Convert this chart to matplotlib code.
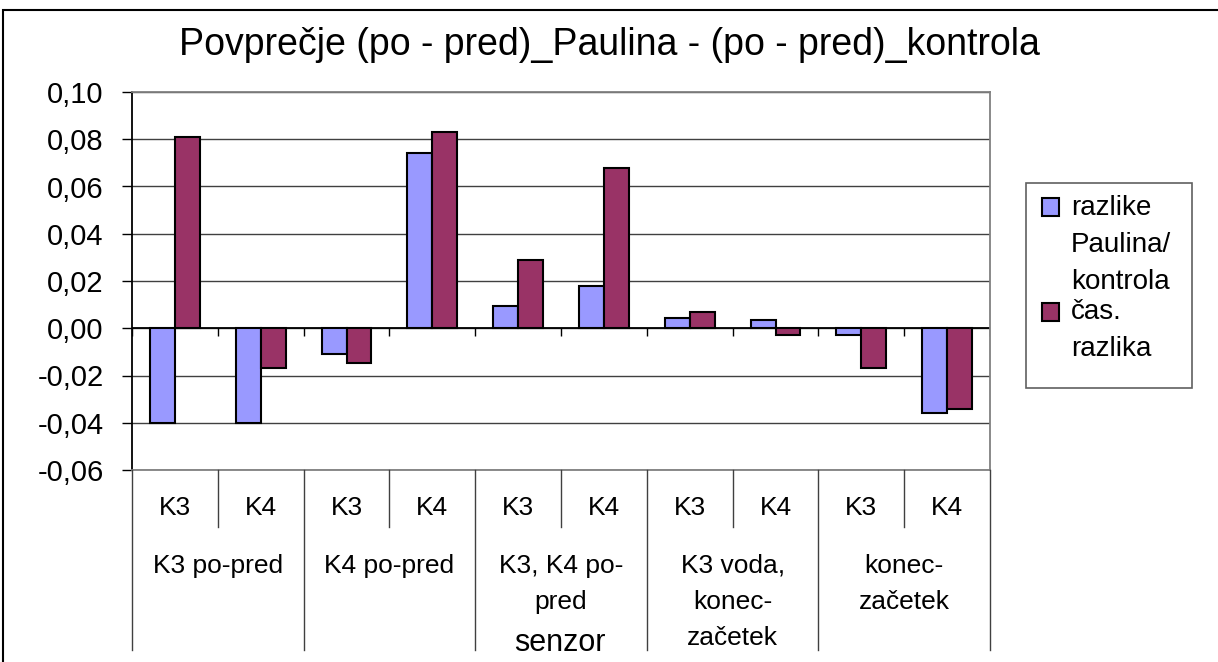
import numpy as np
import matplotlib.pyplot as plt
from matplotlib.patches import Rectangle
from matplotlib.lines import Line2D
from matplotlib.transforms import blended_transform_factory
from matplotlib.ticker import FuncFormatter, MultipleLocator

plt.rcParams['font.family'] = ['Liberation Sans', 'DejaVu Sans']

title = 'Povprečje (po - pred)_Paulina - (po - pred)_kontrola'
groups = ['K3 po-pred', 'K4 po-pred', 'K3, K4 po-\npred', 'K3 voda,\nkonec-\nzačetek', 'konec-\nzačetek']
sensors = ['K3', 'K4']
axis_title = 'senzor'
series_names = ['razlike\nPaulina/\nkontrola', 'čas.\nrazlika']
razlike = [-0.040, -0.040, -0.011, 0.074, 0.0095, 0.018, 0.0045, 0.0035, -0.003, -0.036]
cas_razlika = [0.081, -0.017, -0.0145, 0.083, 0.029, 0.068, 0.007, -0.003, -0.017, -0.034]
colors = ['#9999FF', '#993366']

W, H = 1218, 662
fx = lambda px: px / W
fy = lambda py: 1 - py / H

fig = plt.figure(figsize=(W / 100, H / 100), dpi=100)
ax = fig.add_axes([fx(132), fy(470), (990 - 132) / W, (470 - 92) / H])

n = len(razlike)
x = np.arange(n)
w = 0.29
ax.bar(x - w / 2, razlike, w, color=colors[0], edgecolor='black', lw=1.5, zorder=3)
ax.bar(x + w / 2, cas_razlika, w, color=colors[1], edgecolor='black', lw=1.5, zorder=3)

ax.set_xlim(-0.5, n - 0.5)
ax.set_ylim(-0.06, 0.10)
ax.yaxis.set_major_locator(MultipleLocator(0.02))
ax.yaxis.set_major_formatter(FuncFormatter(lambda v, p: f'{v:.2f}'.replace('.', ',')))
ax.set_xticks([])
ax.tick_params(axis='y', direction='out', length=7.5, width=1, pad=13, labelsize=21)
ax.yaxis.grid(True, color='#404040', lw=1)
ax.set_axisbelow(True)
for s in ['top', 'right', 'bottom']:
    ax.spines[s].set_color('#808080')
    ax.spines[s].set_linewidth(1.3)
ax.spines['left'].set_color('black')
ax.spines['left'].set_linewidth(1.3)

# category axis at zero
ax.axhline(0, color='black', lw=1.3, zorder=2)
ax.vlines(np.arange(n + 1) - 0.5, -0.0034, 0, color='black', lw=1, zorder=2)

# multi-level category labels below the plot
tr = blended_transform_factory(ax.transData, fig.transFigure)
for i in range(n):
    ax.text(i, fy(508), sensors[i % 2], transform=tr, ha='center', va='center', fontsize=19)
for g, label in enumerate(groups):
    ax.text(2 * g + 0.5, fy(554), label, transform=tr, ha='center', va='top', fontsize=19,
            linespacing=1.62)
    fig.add_artist(Line2D([2 * g + 0.5] * 2, [fy(470), fy(527)], transform=tr, color='#404040', lw=1))
for b in np.arange(0, n + 1, 2) - 0.5:
    fig.add_artist(Line2D([b, b], [fy(470), fy(650)], transform=tr, color='#404040', lw=1))
fig.text(fx(560), fy(643), axis_title, ha='center', va='center', fontsize=22)

fig.text(fx(609), fy(45), title, ha='center', va='center', fontsize=27)

# legend
fig.add_artist(Rectangle((fx(1026), fy(388)), (1192 - 1026) / W, (388 - 183) / H,
                         transform=fig.transFigure, fill=False, edgecolor='#606060', lw=1.2))
for name, col, cy, ty in zip(series_names, colors, [207, 312], [195, 299]):
    fig.add_artist(Rectangle((fx(1042), fy(cy + 9)), 17 / W, 18 / H, transform=fig.transFigure,
                             facecolor=col, edgecolor='black', lw=1.5))
    fig.text(fx(1071), fy(ty), name, ha='left', va='top', fontsize=20, linespacing=1.54)

# outer chart border
fig.add_artist(Rectangle((fx(3), -0.1), 2, fy(10) + 0.1, transform=fig.transFigure,
                         fill=False, edgecolor='black', lw=1.5))

fig.savefig('out.png', dpi=100)
